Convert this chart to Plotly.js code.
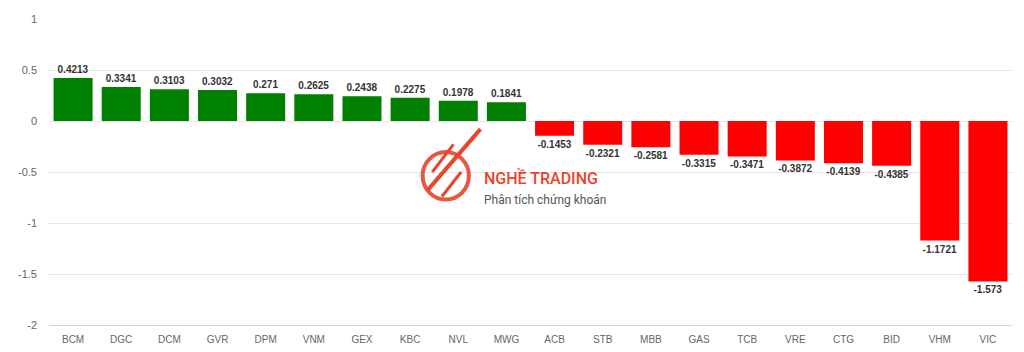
<!DOCTYPE html>
<html><head><meta charset="utf-8">
<script src="https://cdn.plot.ly/plotly-3.0.1.min.js"></script>
<style>html,body{margin:0;padding:0;background:#fff}#c{width:1024px;height:352px}</style>
</head><body><div id="c"></div>
<script>
const categories = ["BCM","DGC","DCM","GVR","DPM","VNM","GEX","KBC","NVL","MWG","ACB","STB","MBB","GAS","TCB","VRE","CTG","BID","VHM","VIC"];
const values = [0.4213,0.3341,0.3103,0.3032,0.271,0.2625,0.2438,0.2275,0.1978,0.1841,-0.1453,-0.2321,-0.2581,-0.3315,-0.3471,-0.3872,-0.4139,-0.4385,-1.1721,-1.573];
const valueLabels = ["0.4213","0.3341","0.3103","0.3032","0.271","0.2625","0.2438","0.2275","0.1978","0.1841","-0.1453","-0.2321","-0.2581","-0.3315","-0.3471","-0.3872","-0.4139","-0.4385","-1.1721","-1.573"];
const yTicks = [1,0.5,0,-0.5,-1,-1.5,-2];
const yTickLabels = ["1","0.5","0","-0.5","-1","-1.5","-2"];
const watermarkTitle = "NGHỀ TRADING";
const watermarkSub = "Phân tích chứng khoán";

const colors = values.map(v => v >= 0 ? "#008000" : "#ff0000");

const trace = {
  type: "bar",
  x: categories,
  y: values,
  marker: {color: colors, line: {width: 0}},
  text: valueLabels,
  textposition: "outside",
  textfont: {family: "Liberation Sans, Arial, sans-serif", size: 10, color: "#333333", weight: "bold"},
  cliponaxis: false,
  hoverinfo: "x+y"
};

const orange = "#e8452c";
const layout = {
  width: 1024, height: 352,
  margin: {l: 49, r: 12, t: 19, b: 27},
  paper_bgcolor: "#ffffff", plot_bgcolor: "#ffffff",
  bargap: 0.19,
  showlegend: false,
  font: {family: "Liberation Sans, Arial, sans-serif", size: 11, color: "#666666"},
  xaxis: {
    type: "category",
    showgrid: false,
    showline: true, linecolor: "#ccd6eb", linewidth: 1,
    ticks: "", tickfont: {size: 10, color: "#666666"}, ticklabelstandoff: 5,
    zeroline: false
  },
  yaxis: {
    range: [-2, 1],
    tickvals: yTicks, ticktext: yTickLabels,
    showgrid: true, gridcolor: "#e6e6e6", gridwidth: 1,
    zeroline: true, zerolinecolor: "#e6e6e6", zerolinewidth: 1,
    showline: false, ticks: "", ticklabelstandoff: 11,
    tickfont: {size: 11, color: "#666666"}
  },
  shapes: [
    {type: "circle", xref: "paper", yref: "paper", layer: "above",
     x0: 0.388, x1: 0.436, y0: 0.41, y1: 0.565,
     line: {color: orange, width: 4}, fillcolor: "rgba(0,0,0,0)", opacity: 0.9},
    {type: "line", xref: "paper", yref: "paper", layer: "above",
     x0: 0.393, y0: 0.44, x1: 0.448, y1: 0.64,
     line: {color: orange, width: 4}},
    {type: "line", xref: "paper", yref: "paper", layer: "above",
     x0: 0.398, y0: 0.50, x1: 0.420, y1: 0.59,
     line: {color: orange, width: 3}},
    {type: "line", xref: "paper", yref: "paper", layer: "above",
     x0: 0.408, y0: 0.42, x1: 0.428, y1: 0.50,
     line: {color: orange, width: 3}}
  ],
  annotations: [
    {xref: "paper", yref: "paper", x: 0.450, y: 0.48, xanchor: "left", yanchor: "middle",
     text: watermarkTitle, showarrow: false,
     font: {family: "Roboto, Arial, sans-serif", size: 16, color: orange, weight: 500}},
    {xref: "paper", yref: "paper", x: 0.450, y: 0.41, xanchor: "left", yanchor: "middle",
     text: watermarkSub, showarrow: false,
     font: {family: "Roboto, Arial, sans-serif", size: 12, color: "#555555"}}
  ]
};

Plotly.newPlot("c", [trace], layout, {displayModeBar: false, staticPlot: true});
</script></body></html>
